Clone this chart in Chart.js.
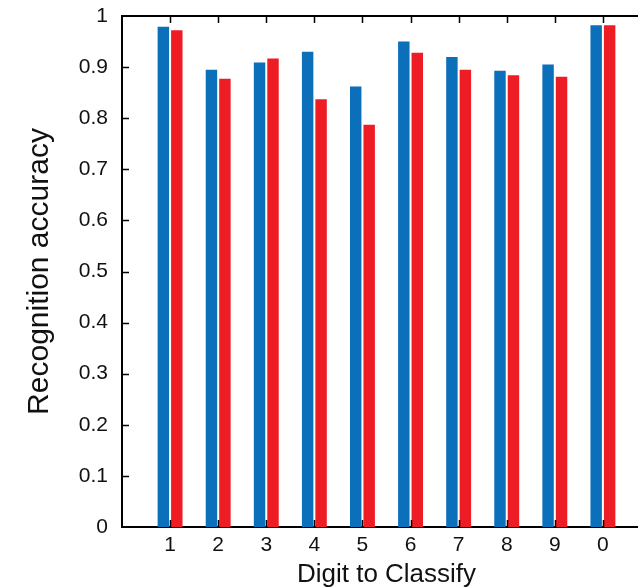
<!DOCTYPE html>
<html>
<head>
<meta charset="utf-8">
<script src="https://cdn.jsdelivr.net/npm/chart.js@4.4.1/dist/chart.umd.min.js"></script>
<style>
  html, body { margin: 0; padding: 0; background: #fff; overflow: hidden; }
  #wrap { width: 665px; height: 588px; }
</style>
</head>
<body>
<div id="wrap"><canvas id="myChart" width="665" height="588"></canvas></div>
<script>
const categories = ['1', '2', '3', '4', '5', '6', '7', '8', '9', '0'];
const blueValues = [0.979, 0.895, 0.909, 0.930, 0.862, 0.950, 0.920, 0.893, 0.905, 0.982];
const redValues = [0.972, 0.877, 0.917, 0.837, 0.787, 0.928, 0.895, 0.884, 0.881, 0.982];
const yTicks = [0.1, 0.2, 0.3, 0.4, 0.5, 0.6, 0.7, 0.8, 0.9];

// empty slot at each end so the axis runs a full category past the bars
const labels = ['', ...categories, ''];
const pad = (arr) => [null, ...arr, null];

const FONT = "'Liberation Sans', Arial, sans-serif";

// tick marks pointing into the plot, like the original
const innerTicks = {
  id: 'innerTicks',
  afterDraw(chart) {
    const { ctx, chartArea, scales } = chart;
    ctx.save();
    ctx.strokeStyle = '#000';
    ctx.lineWidth = 1.5;
    ctx.beginPath();
    categories.forEach((c, i) => {
      const x = Math.round(scales.x.getPixelForValue(i + 1)) + 0.5;
      ctx.moveTo(x, chartArea.top);
      ctx.lineTo(x, chartArea.top + 7);
      ctx.moveTo(x, chartArea.bottom);
      ctx.lineTo(x, chartArea.bottom - 7);
    });
    yTicks.forEach((v) => {
      const y = Math.round(scales.y.getPixelForValue(v)) + 0.5;
      ctx.moveTo(chartArea.left, y);
      ctx.lineTo(chartArea.left + 7, y);
    });
    ctx.stroke();
    ctx.restore();
  },
};

new Chart(document.getElementById('myChart'), {
  type: 'bar',
  data: {
    labels: labels,
    datasets: [
      {
        data: pad(blueValues),
        backgroundColor: '#0b6fba',
        categoryPercentage: 0.56,
        barPercentage: 0.85,
      },
      {
        data: pad(redValues),
        backgroundColor: '#ee1c25',
        categoryPercentage: 0.56,
        barPercentage: 0.85,
      },
    ],
  },
  options: {
    responsive: false,
    animation: false,
    layout: { padding: { top: 16, right: 14, left: 0, bottom: 0 } },
    plugins: {
      legend: { display: false },
      tooltip: { enabled: false },
    },
    scales: {
      x: {
        type: 'category',
        offset: false,
        grid: { display: false, drawTicks: false },
        border: { display: true, color: '#000', width: 2 },
        ticks: {
          color: '#111',
          font: { family: FONT, size: 21 },
          padding: 6,
          maxRotation: 0,
          autoSkip: false,
        },
        title: {
          display: true,
          text: 'Digit to Classify',
          color: '#111',
          font: { family: FONT, size: 26 },
          padding: { top: 0, bottom: -2 },
        },
        afterFit(scale) {
          scale.height = 61;
          scale.paddingLeft = 0;
          scale.paddingRight = 0;
        },
      },
      x2: {
        type: 'category',
        position: 'top',
        offset: false,
        grid: { display: false, drawTicks: false },
        border: { display: true, color: '#000', width: 2 },
        ticks: { display: false },
        afterFit(scale) {
          scale.height = 0;
          scale.paddingLeft = 0;
          scale.paddingRight = 0;
        },
      },
      y: {
        min: 0,
        max: 1,
        ticks: {
          stepSize: 0.1,
          color: '#111',
          font: { family: FONT, size: 21 },
          padding: 14,
          callback: (v) => String(Number(v.toFixed(1))),
        },
        grid: { display: false, drawTicks: false },
        border: { display: true, color: '#000', width: 2 },
        title: {
          display: true,
          text: 'Recognition accuracy',
          color: '#111',
          font: { family: FONT, size: 30 },
          padding: { top: 22, bottom: 0 },
        },
        afterFit(scale) {
          scale.width = 122;
          scale.paddingTop = 0;
          scale.paddingBottom = 0;
        },
      },
    },
  },
  plugins: [innerTicks],
});
</script>
</body>
</html>
